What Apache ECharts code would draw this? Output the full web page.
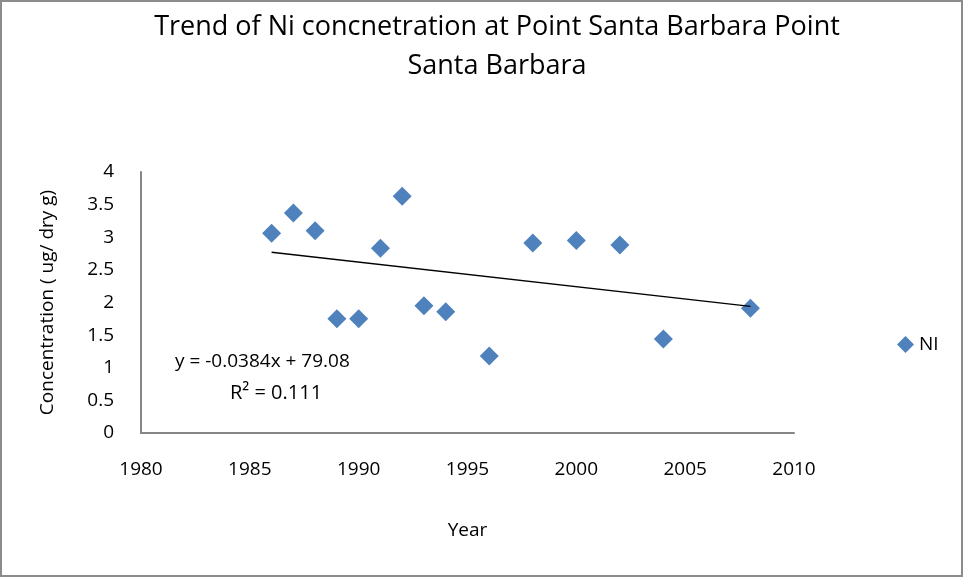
<!DOCTYPE html>
<html>
<head>
<meta charset="utf-8">
<script src="https://cdn.jsdelivr.net/npm/echarts@6/dist/echarts.min.js"></script>
<style>
  html, body { margin: 0; padding: 0; background: #fff; }
  #chart { width: 963px; height: 577px; box-sizing: border-box; border: 2px solid #8c8c8c; }
</style>
</head>
<body>
<div id="chart"></div>
<script>
  // values
  var years = [1986, 1987, 1988, 1989, 1990, 1991, 1992, 1993, 1994, 1996, 1998, 2000, 2002, 2004, 2008];
  var niValues = [3.06, 3.37, 3.10, 1.75, 1.75, 2.83, 3.63, 1.95, 1.86, 1.18, 2.91, 2.95, 2.88, 1.44, 1.91];
  // linear trendline end points
  var trendYears = [1986, 2008];
  var trendValues = [2.77, 1.94];
  var yTicks = [0, 0.5, 1, 1.5, 2, 2.5, 3, 3.5, 4];

  var font = '"Open Sans", sans-serif';
  var myChart = echarts.init(document.getElementById('chart'));

  var option = {
    backgroundColor: '#fff',
    animation: false,
    textStyle: { fontFamily: font, color: '#000' },
    title: {
      text: 'Trend of Ni concnetration at Point Santa Barbara Point\nSanta Barbara',
      left: 490,
      top: 1,
      textAlign: 'center',
      textStyle: { fontSize: 27, fontWeight: 'normal', lineHeight: 39, color: '#000', fontFamily: font }
    },
    grid: { left: 139, top: 170, right: 167, bottom: 142 },
    xAxis: {
      type: 'value',
      min: 1980,
      max: 2010,
      interval: 5,
      name: 'Year',
      nameLocation: 'middle',
      nameGap: 88,
      nameTextStyle: { fontSize: 19, color: '#000', fontFamily: font },
      axisLine: { show: true, lineStyle: { color: '#868686', width: 2 } },
      axisTick: { show: false },
      splitLine: { show: false },
      axisLabel: {
        fontSize: 19, color: '#000', margin: 27, fontFamily: font,
        formatter: function (v) { return String(v); }
      }
    },
    yAxis: {
      type: 'value',
      min: 0,
      max: 4,
      interval: 0.5,
      name: 'Concentration ( ug/ dry g)',
      nameLocation: 'middle',
      nameGap: 84,
      nameTextStyle: { fontSize: 19, color: '#000', fontFamily: font },
      axisLine: { show: true, lineStyle: { color: '#868686', width: 2 } },
      axisTick: { show: false },
      splitLine: { show: false },
      axisLabel: {
        fontSize: 19, color: '#000', margin: 27, fontFamily: font,
        formatter: function (v) { return yTicks.indexOf(v) >= 0 ? String(v) : ''; }
      }
    },
    legend: {
      data: [{ name: 'NI', icon: 'diamond' }],
      left: 890,
      top: 328,
      itemWidth: 17,
      itemHeight: 17,
      itemGap: 6,
      textStyle: { fontSize: 19, color: '#000', fontFamily: font }
    },
    graphic: [
      {
        type: 'text', left: 173, top: 350,
        style: { text: 'y = -0.0384x + 79.08', fontSize: 19, fill: '#000', fontFamily: font }
      },
      {
        type: 'text', left: 228, top: 381,
        style: { text: 'R² = 0.111', fontSize: 20, fill: '#000', fontFamily: font }
      }
    ],
    series: [
      {
        name: 'NI',
        type: 'scatter',
        symbol: 'diamond',
        symbolSize: 19,
        itemStyle: { color: '#4F81BD', opacity: 1 },
        data: years.map(function (y, i) { return [y, niValues[i]]; })
      },
      {
        name: 'trend',
        type: 'line',
        symbol: 'none',
        silent: true,
        lineStyle: { color: '#000', width: 1.3 },
        data: trendYears.map(function (y, i) { return [y, trendValues[i]]; })
      }
    ]
  };
  myChart.setOption(option);
</script>
</body>
</html>
